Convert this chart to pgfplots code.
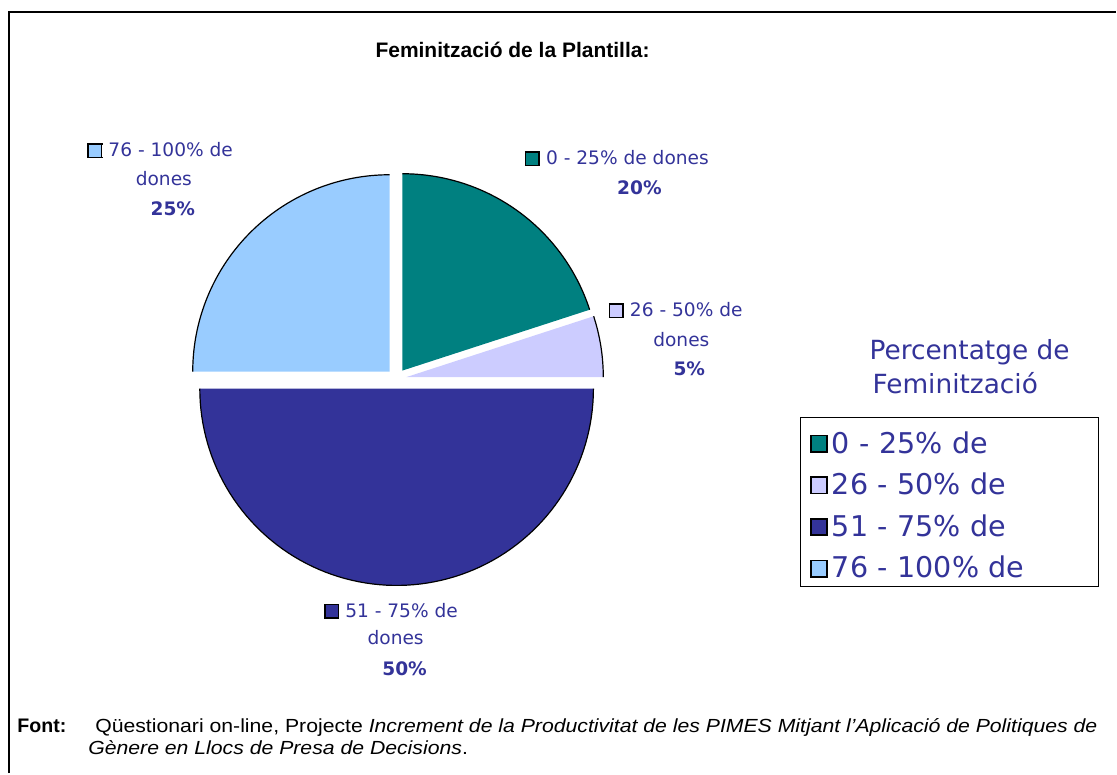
\documentclass[border=0pt]{standalone}
\usepackage{fontspec}
\setmainfont{Liberation Sans}
\newfontfamily\dv{DejaVu Sans}
\usepackage{graphicx}
\usepackage{pgfplots}
\pgfplotsset{compat=1.18}
\definecolor{cteal}{HTML}{008080}
\definecolor{clav}{HTML}{CCCCFF}
\definecolor{cnavy}{HTML}{333399}
\definecolor{clblue}{HTML}{99CCFF}
\definecolor{ctext}{HTML}{333399}

% pie geometry (pixel units of the picture)
\def\pcx{397}\def\pcy{379}\def\pR{197}\def\pex{10}
\xdef\cur{90}
\newcommand\slice[2]{% value, colour
  \pgfmathsetmacro\aS{\cur-3.6*#1}%
  \pgfmathsetmacro\aM{\cur-1.8*#1}%
  \pgfmathsetmacro\ccx{\pcx+\pex*cos(\aM)}%
  \pgfmathsetmacro\ccy{\pcy-\pex*sin(\aM)}%
  \edef\doslice{%
    \noexpand\addplot[fill=#2, draw=none, domain=\aS:\cur, samples=90]
      ({\ccx+\pR*cos(x)},{\ccy-\pR*sin(x)}) -- (axis cs:\ccx,\ccy) -- cycle;
    \noexpand\addplot[forget plot, draw=black, line width=0.6pt, domain=\aS:\cur, samples=90]
      ({\ccx+\pR*cos(x)},{\ccy-\pR*sin(x)});
  }%
  \doslice
  \xdef\cur{\aS}%
}
\newcommand\sw[1]{{\setlength\fboxsep{0pt}\setlength\fboxrule{0.8pt}\fcolorbox{black}{#1}{\rule{0pt}{6pt}\rule{6pt}{0pt}}}}
\newcommand\lf{\dv\fontsize{9.3}{11}\selectfont\color{ctext}}
\newcommand\lfb{\dv\bfseries\fontsize{9.3}{11}\selectfont\color{ctext}}

\newsavebox\lineA
\sbox\lineA{\fontsize{9.5}{11}\selectfont Qüestionari on-line, Projecte \textit{Increment de la Productivitat de les PIMES Mitjant l’Aplicació de Politiques de}}
\newsavebox\lineB
\sbox\lineB{\fontsize{9.5}{11}\selectfont \textit{Gènere en Llocs de Presa de Decisions}.}
\pgfmathsetmacro\fscale{501.5/(\wd\lineA/1pt)}

\begin{document}
\begin{tikzpicture}
\begin{axis}[
  width=558.5pt, height=387pt, scale only axis,
  xmin=0, xmax=1117, ymin=0, ymax=774, y dir=reverse,
  hide axis, clip=false,
  legend entries={0 - 25\% de, 26 - 50\% de, 51 - 75\% de, 76 - 100\% de},
  legend image code/.code={\draw[#1, draw=black, line width=0.8pt] (0pt,0.5pt) rectangle (8.2pt,8.7pt);},
  legend style={at={(axis cs:801,417)}, anchor=north west, draw=black, line width=0.5pt,
    fill=white, inner xsep=4.6pt, inner ysep=3pt, row sep=4.3pt, column sep=2pt,
    font=\dv\fontsize{14.3}{17}\selectfont, text=ctext,
    cells={anchor=base west},
    nodes={inner xsep=0pt, inner ysep=0pt, text height=15pt, text depth=1.5pt, text width=129pt}},
]
\path (rel axis cs:0,0) rectangle (rel axis cs:1,1);
\slice{20}{cteal}
\slice{5}{clav}
\slice{50}{cnavy}
\slice{25}{clblue}

% frame
\draw[line width=1.1pt] (axis cs:9,774) -- (axis cs:9,12) -- (axis cs:1117,12);

% title
\node[anchor=base, inner sep=0pt] at (axis cs:513,58) {\bfseries\fontsize{10.5}{12}\selectfont Feminització de la Plantilla:};

% slice labels
\node[anchor=base west, inner sep=0pt] at (axis cs:525,165) {\lf\sw{cteal}\hspace{3pt}0 - 25\% de dones};
\node[anchor=base, inner sep=0pt] at (axis cs:640,195) {\lfb 20\%};
\node[anchor=base west, inner sep=0pt] at (axis cs:609,317) {\lf\sw{clav}\hspace{3pt}26 - 50\% de};
\node[anchor=base, inner sep=0pt] at (axis cs:682,347) {\lf dones};
\node[anchor=base, inner sep=0pt] at (axis cs:690,376) {\lfb 5\%};
\node[anchor=base west, inner sep=0pt] at (axis cs:87,157) {\lf\sw{clblue}\hspace{3pt}76 - 100\% de};
\node[anchor=base, inner sep=0pt] at (axis cs:164,186) {\lf dones};
\node[anchor=base, inner sep=0pt] at (axis cs:173,216) {\lfb 25\%};
\node[anchor=base west, inner sep=0pt] at (axis cs:324,618) {\lf\sw{cnavy}\hspace{3pt}51 - 75\% de};
\node[anchor=base, inner sep=0pt] at (axis cs:396,645) {\lf dones};
\node[anchor=base, inner sep=0pt] at (axis cs:405,676) {\lfb 50\%};

% legend title
\node[anchor=base west, inner sep=0pt] at (axis cs:870,360) {\dv\fontsize{13.2}{15}\selectfont\color{ctext}Percentatge de};
\node[anchor=base west, inner sep=0pt] at (axis cs:873,394) {\dv\fontsize{13.2}{15}\selectfont\color{ctext}Feminització};

% source note
\node[anchor=base west, inner sep=0pt] at (axis cs:17,733) {\bfseries\fontsize{9.8}{11}\selectfont Font:};
\node[anchor=base west, inner sep=0pt] at (axis cs:95,733) {\scalebox{\fscale}[1]{\usebox\lineA}};
\node[anchor=base west, inner sep=0pt] at (axis cs:88,755) {\scalebox{\fscale}[1]{\usebox\lineB}};
\end{axis}
\end{tikzpicture}
\end{document}
